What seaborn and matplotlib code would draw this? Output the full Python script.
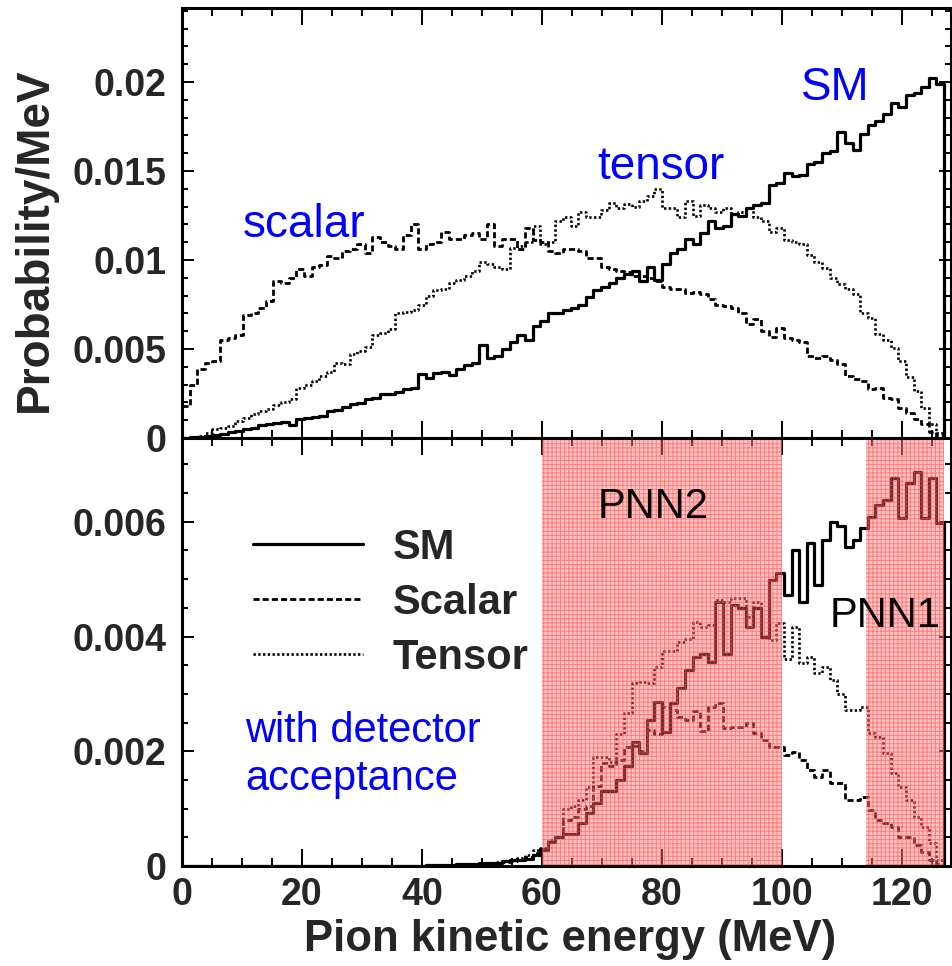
import numpy as np
import pandas as pd
import matplotlib
matplotlib.use("Agg")
import matplotlib.pyplot as plt
from matplotlib.lines import Line2D
from matplotlib.ticker import MultipleLocator, FuncFormatter
import seaborn as sns

# ---------------------------------------------------------------------------
# Pion kinetic energy spectra, 1.27 MeV bins from 0 to the 127 MeV endpoint;
# the final 0 entry closes the histogram at the endpoint.
# Values are probability per MeV in units of 1e-3.
# ---------------------------------------------------------------------------
BIN_WIDTH = 1.27
N_POINTS = 101
UNIT = 1e-3

# Upper panel: bare spectra
sm_top = [
    0.02, 0.04, 0.08, 0.10, 0.15, 0.25, 0.35, 0.40, 0.50, 0.55,
    0.75, 0.80, 0.85, 0.90, 0.75, 1.05, 1.10, 1.20, 1.25, 1.50,
    1.60, 1.75, 1.90, 1.95, 2.20, 2.25, 2.45, 2.50, 2.60, 2.75,
    2.80, 3.60, 3.35, 3.65, 3.70, 3.55, 3.90, 4.10, 4.20, 5.20,
    4.50, 4.60, 5.00, 5.40, 5.80, 5.50, 6.30, 6.60, 7.00, 7.00,
    7.20, 7.30, 7.50, 7.90, 8.30, 8.50, 8.70, 9.00, 9.20, 9.40,
    8.80, 9.60, 8.90, 9.80, 10.40, 10.60, 11.20, 10.90, 11.50, 12.20,
    11.80, 11.90, 12.60, 12.50, 12.90, 13.10, 13.20, 14.20, 14.30, 14.90,
    14.70, 14.80, 15.40, 15.50, 16.00, 16.10, 17.20, 16.60, 16.20, 17.10,
    17.60, 17.80, 18.20, 18.80, 18.60, 19.30, 19.40, 19.70, 20.20, 19.90,
    0.0,
]
scalar_top = [
    1.80, 3.00, 3.90, 4.20, 4.30, 5.50, 5.60, 5.80, 6.90, 7.00,
    7.30, 7.70, 8.80, 8.70, 9.00, 9.50, 9.10, 9.60, 9.70, 10.20,
    10.10, 10.50, 10.60, 10.90, 10.40, 11.30, 11.00, 10.80, 10.60, 11.40,
    12.00, 10.60, 10.90, 11.00, 11.60, 11.20, 11.20, 11.40, 11.50, 11.20,
    12.00, 10.80, 11.20, 11.20, 10.60, 11.80, 11.10, 11.00, 10.50, 10.40,
    10.60, 10.60, 10.50, 10.10, 10.10, 9.60, 9.50, 9.40, 9.30, 9.10,
    9.10, 9.00, 8.80, 8.50, 8.40, 8.40, 8.15, 8.20, 8.10, 7.80,
    7.50, 7.40, 7.30, 7.00, 6.40, 6.70, 6.00, 5.70, 6.20, 5.60,
    5.50, 5.40, 4.60, 4.50, 4.60, 4.40, 4.15, 3.50, 3.30, 3.20,
    2.75, 2.80, 2.25, 2.20, 1.70, 1.40, 1.05, 0.80, 0.35, 0.10,
    0.0,
]
tensor_top = [
    0.00, 0.02, 0.10, 0.30, 0.50, 0.55, 0.70, 0.95, 1.10, 1.35,
    1.50, 1.65, 1.85, 2.00, 2.20, 2.80, 3.00, 3.20, 3.50, 3.70,
    4.20, 4.15, 4.70, 4.90, 5.10, 5.80, 5.90, 6.10, 7.00, 7.10,
    7.20, 7.50, 8.00, 8.30, 8.40, 8.70, 8.90, 9.10, 9.40, 9.90,
    9.80, 9.60, 9.50, 10.70, 10.80, 11.00, 11.90, 10.90, 11.00, 12.20,
    12.40, 11.90, 12.70, 12.40, 12.40, 12.80, 13.20, 12.90, 13.15, 13.00,
    13.30, 13.60, 14.00, 12.90, 12.90, 12.40, 13.30, 12.50, 13.10, 12.90,
    12.70, 12.90, 12.60, 12.70, 12.90, 12.40, 12.20, 11.60, 11.80, 11.10,
    11.00, 10.90, 10.30, 9.90, 9.55, 9.00, 8.65, 8.40, 8.10, 7.00,
    6.75, 5.85, 5.50, 5.05, 4.30, 3.40, 2.65, 1.70, 0.80, 0.30,
    0.0,
]

# Lower panel: spectra after detector acceptance
sm_acc = [0.0] * 30 + [
    0.00, 0.00, 0.01, 0.02, 0.02, 0.02, 0.03, 0.03, 0.04, 0.05,
    0.05, 0.06, 0.08, 0.10, 0.10, 0.12, 0.20, 0.28, 0.42, 0.50,
    0.55, 0.55, 0.75, 0.92, 1.10, 1.30, 1.30, 1.50, 1.75, 2.16,
    1.97, 2.55, 2.86, 2.34, 2.84, 3.10, 3.42, 3.65, 3.70, 3.55,
    4.60, 3.70, 4.55, 4.50, 4.17, 4.50, 4.00, 4.98, 5.10, 4.72,
    5.50, 4.60, 5.63, 4.90, 5.68, 6.00, 5.92, 5.56, 5.68, 5.90,
    6.09, 6.30, 6.38, 6.77, 6.07, 6.68, 6.87, 6.07, 6.77, 5.98,
    0.0,
]
scalar_acc = [0.0] * 30 + [
    0.00, 0.00, 0.01, 0.01, 0.02, 0.02, 0.02, 0.03, 0.03, 0.04,
    0.05, 0.05, 0.07, 0.08, 0.10, 0.15, 0.22, 0.30, 0.42, 0.50,
    0.80, 0.85, 1.00, 1.05, 1.40, 1.80, 1.75, 1.85, 2.07, 2.10,
    2.00, 2.37, 2.30, 2.77, 2.72, 2.60, 2.55, 2.70, 2.35, 2.77,
    2.84, 2.40, 2.42, 2.42, 2.49, 2.32, 2.20, 2.07, 2.07, 1.93,
    1.99, 1.85, 1.67, 1.55, 1.67, 1.45, 1.45, 1.15, 1.15, 1.20,
    0.98, 0.80, 0.75, 0.68, 0.50, 0.50, 0.37, 0.25, 0.10, 0.03,
    0.0,
]
tensor_acc = [0.0] * 30 + [
    0.00, 0.00, 0.01, 0.01, 0.02, 0.02, 0.03, 0.03, 0.04, 0.05,
    0.06, 0.07, 0.08, 0.10, 0.14, 0.20, 0.28, 0.32, 0.45, 0.50,
    1.00, 1.05, 1.15, 1.38, 1.90, 1.90, 1.82, 2.30, 2.66, 3.19,
    3.20, 3.19, 3.47, 3.75, 3.75, 3.90, 3.95, 4.25, 4.17, 4.20,
    4.64, 4.60, 4.67, 4.67, 4.34, 4.60, 4.00, 3.94, 4.24, 3.60,
    4.17, 3.54, 3.65, 3.37, 3.47, 3.24, 3.00, 2.72, 2.72, 2.77,
    2.32, 2.25, 1.97, 1.62, 1.38, 1.15, 0.85, 0.68, 0.40, 0.10,
    0.0,
]

series_names = ["SM", "Scalar", "Tensor"]
signal_regions = {"PNN2": (60.0, 100.0), "PNN1": (114.0, 127.0)}

# ---------------------------------------------------------------------------
left_edges = np.arange(N_POINTS) * BIN_WIDTH

sns.set_theme(style="ticks")
plt.rcParams.update({
    "font.family": ["Liberation Sans", "DejaVu Sans"],
    "font.weight": "bold",
    "axes.linewidth": 2.2,
    "axes.edgecolor": "black",
    "hatch.linewidth": 0.7,
})

fig = plt.figure(figsize=(9.52, 9.66), dpi=100)
ax_top = fig.add_axes([0.19118, 0.54658, 0.80777, 0.44513])
ax_bot = fig.add_axes([0.19118, 0.10352, 0.80777, 0.44306])

line_styles = {
    "SM": dict(linestyle="-", linewidth=2.3),
    "Scalar": dict(linestyle=(0, (2.2, 1.1)), linewidth=2.0),
    "Tensor": dict(linestyle=(0, (0.9, 0.9)), linewidth=1.9),
}


def draw_hist(ax, values, name):
    frame = pd.DataFrame({"energy": left_edges,
                          "prob": np.asarray(values) * UNIT})
    sns.lineplot(data=frame, x="energy", y="prob", estimator=None,
                 sort=False, drawstyle="steps-post", color="black",
                 ax=ax, zorder=2, **line_styles[name])


for name, vals in zip(series_names, [sm_top, scalar_top, tensor_top]):
    draw_hist(ax_top, vals, name)
for name, vals in zip(series_names, [sm_acc, scalar_acc, tensor_acc]):
    draw_hist(ax_bot, vals, name)

# Signal regions (shaded on top of the spectra)
for lo, hi in signal_regions.values():
    ax_bot.axvspan(lo, hi, facecolor=(1.0, 0.45, 0.45, 0.42),
                   edgecolor=(1.0, 0.25, 0.25, 0.55), hatch="++++",
                   linewidth=0, zorder=3)

x_max = 128.17
fmt = FuncFormatter(lambda v, p: "0" if abs(v) < 1e-12 else f"{v:g}")
for ax, ytop, ymaj, ymin in [(ax_top, 0.02416, 0.005, 0.001),
                             (ax_bot, 0.00746, 0.002, 0.0005)]:
    ax.set_xlim(0, x_max)
    ax.set_ylim(0, ytop)
    ax.xaxis.set_major_locator(MultipleLocator(20))
    ax.xaxis.set_minor_locator(MultipleLocator(5))
    ax.yaxis.set_major_locator(MultipleLocator(ymaj))
    ax.yaxis.set_minor_locator(MultipleLocator(ymin))
    ax.yaxis.set_major_formatter(fmt)
    ax.tick_params(which="both", direction="in", top=True, right=True,
                   width=1.4, color="black", labelsize=27)
    ax.tick_params(axis="x", which="major", length=12, pad=8)
    ax.tick_params(axis="x", which="minor", length=5.5)
    ax.tick_params(axis="y", which="major", length=8.5, pad=11)
    ax.tick_params(axis="y", which="minor", length=4.5)
    ax.set_xlabel("")
    ax.set_ylabel("")
    for s in ax.spines.values():
        s.set_visible(True)
        s.set_zorder(5)

ax_top.tick_params(axis="x", labelbottom=False)

# Labels on the upper panel
blue = (0, 0, 1)
ax_top.text(103.2, 0.0190, "SM", color=blue, fontsize=33, fontweight="normal")
ax_top.text(69.2, 0.01455, "tensor", color=blue, fontsize=33, fontweight="normal")
ax_top.text(10.2, 0.01129, "scalar", color=blue, fontsize=33, fontweight="normal")

# Labels on the lower panel
ax_bot.text(69.3, 0.00607, "PNN2", color="black", fontsize=30, fontweight="normal")
ax_bot.text(108.0, 0.00417, "PNN1", color="black", fontsize=30, fontweight="normal")
ax_bot.text(10.5, 0.00216, "with detector", color=blue, fontsize=30, fontweight="normal")
ax_bot.text(10.5, 0.00133, "acceptance", color=blue, fontsize=30, fontweight="normal")

handles = [Line2D([], [], color="black", **line_styles[n]) for n in series_names]
ax_bot.legend(handles, series_names, loc="upper left",
              bbox_to_anchor=(0.0923, 0.79), frameon=False, borderpad=0,
              borderaxespad=0, handlelength=2.64, handletextpad=0.72,
              labelspacing=0.36, prop=dict(size=30, weight="bold"))

fig.text(570 / 952, 1 - 940 / 966, "Pion kinetic energy (MeV)", ha="center",
         va="center", fontsize=31.5, fontweight="bold")
fig.text(35 / 952, 1 - 240 / 966, "Probability/MeV", ha="center", va="center",
         rotation=90, fontsize=33, fontweight="bold")

fig.savefig("out.png", dpi=100, facecolor="white")
